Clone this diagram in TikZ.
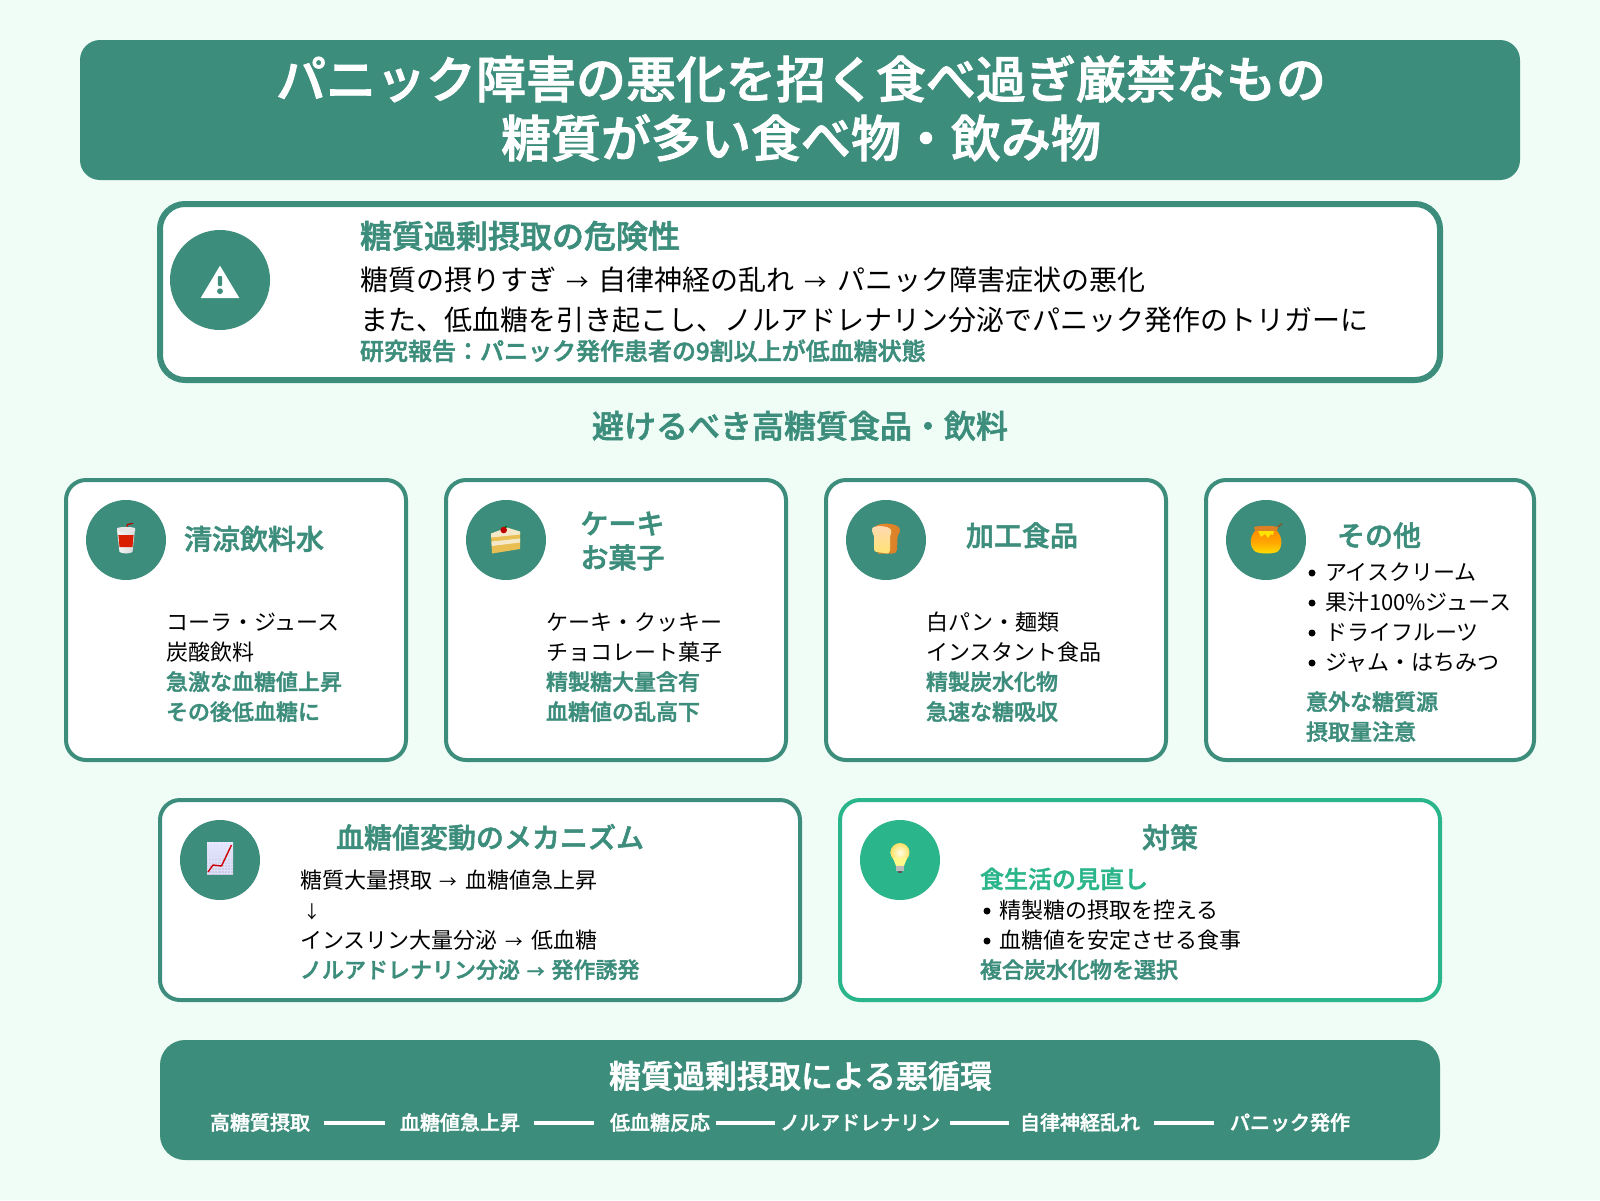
\documentclass[tikz,border=0pt]{standalone}
\usepackage{fontspec}
\setmainfont[BoldFont={Noto Sans CJK JP Medium},BoldFeatures={FakeBold=1.8}]{Noto Sans CJK JP}
\definecolor{bgc}{HTML}{F0FDF6}
\definecolor{teal1}{HTML}{3C8D7B}
\definecolor{acc}{HTML}{2BB58A}
\newcommand{\fs}[1]{\fontsize{#1}{#1}\selectfont}
\newcommand{\arr}{\makebox[1.52em][c]{\fontsize{.8em}{1em}\selectfont →}}
\newcommand{\arrb}{\makebox[1.43em][c]{\fontsize{.8em}{1em}\selectfont →}}
\tikzset{
  every node/.style={inner sep=0pt,outer sep=0pt},
  band/.style={fill=teal1,rounded corners=20pt},
  panel/.style={fill=white,draw=teal1,line width=4pt,rounded corners=20pt},
  bigpanel/.style={fill=white,draw=teal1,line width=6pt,rounded corners=25pt},
  accpanel/.style={fill=white,draw=acc,line width=4pt,rounded corners=20pt},
  disc/.style={circle,fill=teal1,minimum size=80pt},
  accdisc/.style={circle,fill=acc,minimum size=80pt},
  h1t/.style={font=\bfseries\fs{50},text=white,anchor=base},
  h2t/.style={font=\bfseries\fs{32},text=teal1,anchor=base},
  h3t/.style={font=\bfseries\fs{28},text=teal1,anchor=base},
  lead/.style={font=\fs{28},text=black,anchor=base west},
  body/.style={font=\fs{22},text=black,anchor=base west},
  strong/.style={font=\bfseries\fs{22},text=teal1,anchor=base west},
  note/.style={font=\bfseries\fs{24},text=teal1,anchor=base west},
  dot/.style={circle,fill=black,minimum size=7pt},
  foot/.style={font=\bfseries\fs{20},text=white,anchor=base},
  flow/.style={white,line width=3.5pt},
}
\begin{document}
\begin{tikzpicture}[x=1pt,y=-1pt]
\useasboundingbox (0,0) rectangle (1600,1200);
\fill[bgc] (0,0) rectangle (1600,1200);
% header
\node[band,minimum width=1440pt,minimum height=140pt] (hdr) at (800,110) {};
\node[h1t] (t1) at (801,98) {パニック障害の悪化を招く食べ過ぎ厳禁なもの};
\node[h1t] (t2) at (801,157) {糖質が多い食べ物・飲み物};
% danger
\node[bigpanel,minimum width=1280pt,minimum height=176pt] (dng) at (800,292) {};
\node[circle,fill=teal1,minimum size=100pt] (dc) at (220,280) {};
\fill[white] (220,265.7) -- (239.3,298) -- (200.7,298) -- cycle;
\fill[teal1,rounded corners=1pt] (217.8,276) rectangle (222.2,286);
\fill[teal1] (220,291.2) circle (2.9);
\node[h2t,anchor=base west] (d1) at (360,248) {糖質過剰摂取の危険性};
\node[lead] (d2) at (360,290) {糖質の摂りすぎ\arr 自律神経の乱れ\arr パニック障害症状の悪化};
\node[lead] (d3) at (360,330) {また、低血糖を引き起こし、ノルアドレナリン分泌でパニック発作のトリガーに};
\node[note] (d4) at (360,360) {研究報告：パニック発作患者の9割以上が低血糖状態};
% section
\node[h2t] (sec) at (800,438) {避けるべき高糖質食品・飲料};
% cards
\node[panel,minimum width=340pt,minimum height=280pt] (c1) at (236,620) {};
\node[panel,minimum width=340pt,minimum height=280pt] (c2) at (616,620) {};
\node[panel,minimum width=340pt,minimum height=280pt] (c3) at (996,620) {};
\node[panel,minimum width=328pt,minimum height=280pt] (c4) at (1370,620) {};
\node[disc] (i1) at (126,540) {};
\node[disc] (i2) at (506,540) {};
\node[disc] (i3) at (886,540) {};
\node[disc] (i4) at (1266,540) {};
% cup
\draw[red!75!black,line width=1.2pt] (126,530) -- (127.5,524.5) -- (133,523.3);
\shade[left color=white!92!gray,right color=white!70!gray] (117,530) -- (135,530) -- (132.5,552) .. controls (128,554) and (124,554) .. (119.5,552) -- cycle;
\fill[white!80!gray] (117,528) .. controls (121,526.5) and (131,526.5) .. (135,528) -- (135,531) .. controls (131,532.5) and (121,532.5) .. (117,531) -- cycle;
\fill[red!72!orange!85!black] (118.4,535) -- (133.6,535) -- (132.5,547) -- (119.5,547) -- cycle;
% cake
\definecolor{sponge}{HTML}{E9BE52}
\definecolor{creamc}{HTML}{F3E9C9}
\fill[sponge] (491,534) -- (520,532) -- (520,549) -- (492,553.5) -- cycle;
\fill[creamc] (491.5,541.5) -- (520,538.5) -- (520,542.5) -- (491.8,546) -- cycle;
\fill[creamc] (491,533.5) -- (507,527.5) -- (520,531.5) -- (520,534.5) -- (491,537.5) -- cycle;
\fill[red!75!black] (503.7,530) circle (3.3);
\fill[green!40!black] (506,526.7) circle (1.1);
% bread
\shade[left color=orange!65!brown!90!white,right color=brown!60!orange] (873,530) .. controls (873,521.5) and (900,521.5) .. (900,530) .. controls (900,534) and (897.5,534) .. (897.5,538) -- (897,550) .. controls (897,553) and (894,553.5) .. (892,553.5) -- (878,553.5) -- cycle;
\shade[top color=orange!30!white,bottom color=orange!40!yellow!55!white] (872,529) .. controls (872,525) and (889,525) .. (891,530) .. controls (892,534) and (890,534) .. (890,538) -- (890,550) .. controls (890,553) and (888,553.5) .. (887,553.5) -- (877,552) .. controls (875,552) and (874,551) .. (874,549) -- (874,536) .. controls (873,534) and (872,532) .. (872,529) -- cycle;
% honey
\draw[brown!70!black,line width=1.4pt] (1274,530) -- (1282,523.5);
\shade[top color=orange!90!yellow,bottom color=yellow!75!orange,middle color=orange!70!yellow] (1256,530) .. controls (1249,536) and (1249,548) .. (1256,552) .. controls (1262,554) and (1272,554) .. (1277,552) .. controls (1283,548) and (1283,536) .. (1276,530) -- cycle;
\fill[brown!55!orange] (1254,527) .. controls (1260,525.5) and (1272,525.5) .. (1278,527) -- (1277,531) .. controls (1270,532) and (1262,532) .. (1255,531) -- cycle;
\fill[yellow!85!orange] (1258,531) -- (1274,531) -- (1273,535) -- (1271,534) -- (1268,538) -- (1265,534) -- (1261,537) -- cycle;
% other texts
\node[h3t] (h1) at (254,549.5) {清涼飲料水};
\node[h3t] (h2a) at (622.5,534) {ケーキ};
\node[h3t] (h2b) at (622.5,568) {お菓子};
\node[h3t] (h3) at (1022,546) {加工食品};
\node[h3t] (h4) at (1379,546) {その他};
\node[body] (a1) at (166,630) {コーラ・ジュース};
\node[body] (a2) at (166,660) {炭酸飲料};
\node[strong] (a3) at (166,690) {急激な血糖値上昇};
\node[strong] (a4) at (166,720) {その後低血糖に};
\node[body] (b1) at (546,630) {ケーキ・クッキー};
\node[body] (b2) at (546,660) {チョコレート菓子};
\node[strong] (b3) at (546,690) {精製糖大量含有};
\node[strong] (b4) at (546,720) {血糖値の乱高下};
\node[body] (e1) at (926,630) {白パン・麺類};
\node[body] (e2) at (926,660) {インスタント食品};
\node[strong] (e3) at (926,690) {精製炭水化物};
\node[strong] (e4) at (926,720) {急速な糖吸収};
\node[dot] (g1d) at (1312,573) {};
\node[dot] (g2d) at (1312,603) {};
\node[dot] (g3d) at (1312,633) {};
\node[dot] (g4d) at (1312,663) {};
\node[body] (g1) at (1325,580) {アイスクリーム};
\node[body] (g2) at (1325,610) {果汁100\%ジュース};
\node[body] (g3) at (1325,640) {ドライフルーツ};
\node[body] (g4) at (1325,670) {ジャム・はちみつ};
\node[strong] (g5) at (1306,710) {意外な糖質源};
\node[strong] (g6) at (1306,740) {摂取量注意};
% mech
\node[panel,minimum width=640pt,minimum height=200pt] (m) at (480,900) {};
\node[disc] (mi) at (220,860) {};
\shade[top color=white!92!blue,bottom color=blue!25!gray!35!white] (207,842) rectangle (233,874);
\draw[white!88!blue,line width=.25pt,step=3.2pt] (207,842) grid (233,874);
\draw[red!80!black,line width=1.4pt,line join=round] (208,872) -- (213,865) -- (221.5,866) -- (231.5,845);
\node[h3t] (mt) at (490,848) {血糖値変動のメカニズム};
\node[body] (m1) at (300,888) {糖質大量摂取\arr 血糖値急上昇};
\node[body] (m2) at (303,918) {\fontsize{17.6}{18}\selectfont ↓};
\node[body] (m3) at (300,948) {インスリン大量分泌\arr 低血糖};
\node[strong] (m4) at (300,978) {ノルアドレナリン分泌\arrb 発作誘発};
% sol
\node[accpanel,minimum width=600pt,minimum height=200pt] (s) at (1140,900) {};
\node[accdisc] (si) at (900,860) {};
\shade[inner color=white!90!yellow,outer color=yellow!60!orange!60!white] (900,852.5) circle (9.5);
\fill[yellow!45!white] (893,858) -- (907,858) -- (904,866) -- (896,866) -- cycle;
\fill[gray!55] (896,866) rectangle (904,871);
\fill[black!65] (898,871) rectangle (902,873);
\node[h3t] (st) at (1170,848) {対策};
\node[note,text=acc] (s1) at (980,888) {食生活の見直し};
\node[dot] (s2d) at (987,911) {};
\node[dot] (s3d) at (987,941) {};
\node[body] (s2) at (999,918) {精製糖の摂取を控える};
\node[body] (s3) at (999,948) {血糖値を安定させる食事};
\node[strong,text=teal1] (s4) at (980,978) {複合炭水化物を選択};
% footer
\node[band,rounded corners=25pt,minimum width=1280pt,minimum height=120pt] (f) at (800,1100) {};
\node[h2t,text=white] (ft) at (800.5,1088) {糖質過剰摂取による悪循環};
\node[foot] (f1) at (260,1130) {高糖質摂取};
\node[foot] (f2) at (460,1130) {血糖値急上昇};
\node[foot] (f3) at (660,1130) {低血糖反応};
\node[foot] (f4) at (860,1130) {ノルアドレナリン};
\node[foot] (f5) at (1080,1130) {自律神経乱れ};
\node[foot] (f6) at (1290,1130) {パニック発作};
\coordinate (fy) at (0,1123);
\draw[flow,shorten <=14pt,shorten >=15pt] (f1.east |- fy) -- (f2.west |- fy);
\draw[flow,shorten <=14pt,shorten >=16pt] (f2.east |- fy) -- (f3.west |- fy);
\draw[flow,shorten <=6pt,shorten >=5pt] (f3.east |- fy) -- (f4.west |- fy);
\draw[flow,shorten <=10pt,shorten >=11pt] (f4.east |- fy) -- (f5.west |- fy);
\draw[flow,shorten <=14pt,shorten >=16pt] (f5.east |- fy) -- (f6.west |- fy);
\end{tikzpicture}
\end{document}
